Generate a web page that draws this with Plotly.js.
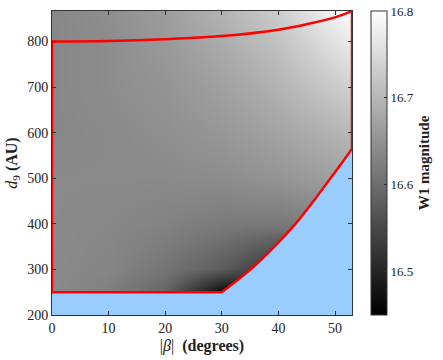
<!DOCTYPE html>
<html>
<head>
<meta charset="utf-8">
<script src="https://cdn.plot.ly/plotly-3.0.1.min.js"></script>
<style>
  html, body { margin: 0; padding: 0; background: #fff; }
  #chart { width: 443px; height: 360px; }
</style>
</head>
<body>
<div id="chart"></div>
<script>
// grid of the W1 magnitude map
const betaGrid = [0, 10, 20, 30, 40, 53];
const distGrid = [200, 250, 300, 400, 500, 600, 700, 800, 867];
const w1Mag = [
    [16.639, 16.618, 16.572, 16.460, 16.460, 16.480],
    [16.639, 16.625, 16.590, 16.464, 16.470, 16.520],
    [16.639, 16.632, 16.611, 16.576, 16.520, 16.555],
    [16.639, 16.636, 16.629, 16.618, 16.615, 16.632],
    [16.639, 16.639, 16.639, 16.643, 16.653, 16.674],
    [16.635, 16.639, 16.646, 16.657, 16.674, 16.702],
    [16.635, 16.643, 16.653, 16.670, 16.695, 16.737],
    [16.635, 16.643, 16.660, 16.685, 16.716, 16.772],
    [16.635, 16.645, 16.665, 16.695, 16.730, 16.800]
];

// lower boundary of the allowed region (blue is excluded)
const lowerBeta = [30, 35.1, 39.3, 43.0, 46.2, 49.2, 51.0, 53];
const lowerDist = [250, 300, 350, 400, 450, 500, 530, 565];

// upper boundary
const upperBeta = [0, 10, 20, 30, 40, 45, 50, 53];
const upperDist = [800, 801, 805, 812, 826, 838, 853, 867];

const dMin = 200;
const dTop = 867;
const dFloor = 250;
const betaMax = 53;

const serif = "'Liberation Serif', 'Times New Roman', serif";
const ink = '#222';
const red = '#ff0000';

// excluded zone polygon
const blueX = [0, ...lowerBeta, betaMax, 0];
const blueY = [dFloor, ...lowerDist, dMin, dMin];

function redLine(x, y, shape) {
    return {
        type: 'scatter',
        mode: 'lines',
        x: x,
        y: y,
        line: { width: 2.5, color: red, shape: shape, smoothing: 1 },
        hoverinfo: 'skip',
        showlegend: false
    };
}

const traces = [
    {
        type: 'heatmap',
        x: betaGrid,
        y: distGrid,
        z: w1Mag,
        zsmooth: 'best',
        zmin: 16.45,
        zmax: 16.8,
        colorscale: [[0, '#000000'], [1, '#ffffff']],
        hoverinfo: 'skip',
        colorbar: {
            x: 1.063,
            xanchor: 'left',
            xpad: 0,
            y: 0.5,
            yanchor: 'middle',
            len: 1,
            ypad: 0,
            thickness: 16,
            outlinewidth: 1,
            outlinecolor: '#333',
            tickvals: [16.5, 16.6, 16.7, 16.8],
            ticktext: ['16.5', '16.6', '16.7', '16.8'],
            ticks: 'inside',
            ticklen: 3,
            tickcolor: '#333',
            tickfont: { family: serif, size: 13, color: ink },
            title: {
                text: '<b>W1 magnitude</b>',
                side: 'right',
                font: { family: serif, size: 15, color: ink }
            }
        }
    },
    {
        type: 'scatter',
        mode: 'lines',
        x: blueX,
        y: blueY,
        fill: 'toself',
        fillcolor: '#99ccff',
        line: { width: 0, color: '#99ccff', shape: 'linear' },
        hoverinfo: 'skip',
        showlegend: false
    },
    // straight parts of the outline
    redLine([upperBeta[0], 0, lowerBeta[0]], [upperDist[0], dFloor, dFloor], 'linear'),
    redLine([betaMax, betaMax], [dTop, lowerDist[lowerDist.length - 1]], 'linear'),
    // curved parts
    redLine(upperBeta, upperDist, 'spline'),
    redLine(lowerBeta, lowerDist, 'spline')
];

const axisBase = {
    showgrid: false,
    zeroline: false,
    showline: true,
    linecolor: '#333',
    linewidth: 1,
    mirror: 'ticks',
    ticks: 'inside',
    ticklen: 4,
    tickcolor: '#333',
    tickfont: { family: serif, size: 14, color: ink }
};

const layout = {
    width: 443,
    height: 360,
    margin: { l: 52, r: 89, t: 11, b: 45 },
    paper_bgcolor: '#ffffff',
    plot_bgcolor: '#ffffff',
    showlegend: false,
    xaxis: Object.assign({}, axisBase, {
        range: [0, betaMax],
        tickvals: [0, 10, 20, 30, 40, 50],
        title: {
            text: '|<i>β</i>|&nbsp;&nbsp;<b>(degrees)</b>',
            font: { family: serif, size: 16, color: ink },
            standoff: 5
        }
    }),
    yaxis: Object.assign({}, axisBase, {
        range: [dMin, dTop],
        tickvals: [200, 300, 400, 500, 600, 700, 800],
        title: {
            text: '<i>d</i><sub>9</sub> <b>(AU)</b>',
            font: { family: serif, size: 16, color: ink },
            standoff: 5
        }
    })
};

Plotly.newPlot('chart', traces, layout, { displayModeBar: false, staticPlot: true });
</script>
</body>
</html>
